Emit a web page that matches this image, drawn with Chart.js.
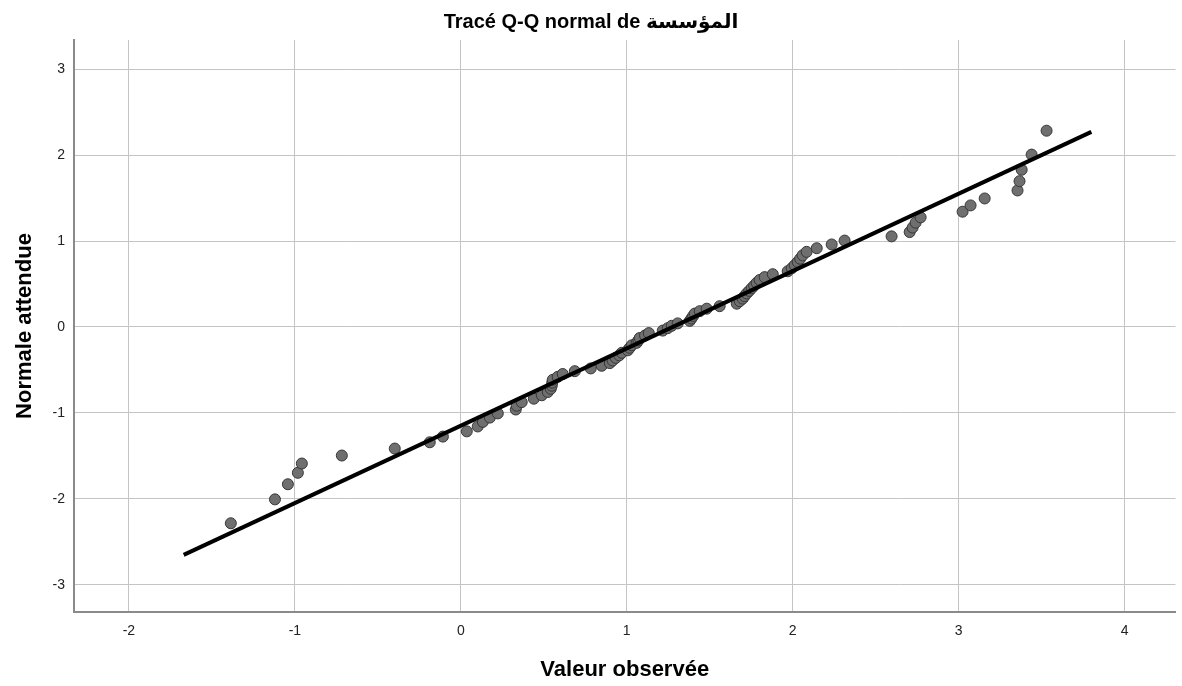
<!DOCTYPE html>
<html>
<head>
<meta charset="utf-8">
<script src="https://cdn.jsdelivr.net/npm/chart.js@4/dist/chart.umd.min.js"></script>
<style>
  html, body { margin: 0; padding: 0; background: #ffffff; }
  #wrap { width: 1182px; height: 686px; }
</style>
</head>
<body>
<div id="wrap"><canvas id="c" width="1182" height="686"></canvas></div>
<script>
const observedValues = [-1.386,-1.120,-1.042,-0.982,-0.958,-0.717,-0.398,-0.187,-0.108,0.036,
  0.102,0.133,0.175,0.223,0.331,0.337,0.367,0.440,0.488,0.524,
  0.542,0.548,0.551,0.554,0.584,0.614,0.687,0.783,0.849,0.898,
  0.915,0.934,0.955,0.970,1.006,1.018,1.030,1.060,1.070,1.078,
  1.110,1.133,1.217,1.247,1.271,1.307,1.380,1.390,1.400,1.410,
  1.440,1.482,1.560,1.663,1.681,1.699,1.710,1.723,1.738,1.753,
  1.768,1.783,1.801,1.831,1.880,1.970,1.994,2.012,2.030,2.045,
  2.060,2.084,2.145,2.235,2.313,2.596,2.705,2.723,2.741,2.771,
  3.024,3.072,3.157,3.355,3.367,3.380,3.440,3.530];
// Expected normal values (y)
const expectedNormal = [-2.283,-2.005,-1.829,-1.696,-1.588,-1.495,-1.414,-1.341,-1.275,-1.214,
  -1.157,-1.104,-1.054,-1.005,-0.960,-0.916,-0.874,-0.834,-0.794,-0.756,
  -0.719,-0.683,-0.648,-0.614,-0.580,-0.547,-0.514,-0.482,-0.451,-0.420,
  -0.390,-0.359,-0.330,-0.300,-0.271,-0.242,-0.213,-0.184,-0.156,-0.128,
  -0.099,-0.071,-0.042,-0.014,0.014,0.042,0.071,0.099,0.128,0.156,
  0.184,0.213,0.242,0.271,0.300,0.330,0.359,0.390,0.420,0.451,
  0.482,0.514,0.547,0.580,0.614,0.648,0.683,0.719,0.756,0.794,
  0.834,0.874,0.916,0.960,1.005,1.054,1.104,1.157,1.214,1.275,
  1.341,1.414,1.495,1.588,1.696,1.829,2.005,2.283];
// Reference line end points
const refLineX = [-1.67, 3.80];
const refLineY = [-2.65, 2.27];
// Tick values
const xTickValues = [-2, -1, 0, 1, 2, 3, 4];
const yTickValues = [-3, -2, -1, 0, 1, 2, 3];

const titleText = 'Tracé Q-Q normal de المؤسسة';
const xTitle = 'Valeur observée';
const yTitle = 'Normale attendue';

const FONT = "'Liberation Sans', Arial, 'DejaVu Sans', sans-serif";

const points = observedValues.map((x, i) => ({ x: x, y: expectedNormal[i] }));
const linePts = refLineX.map((x, i) => ({ x: x, y: refLineY[i] }));

new Chart(document.getElementById('c'), {
  type: 'scatter',
  data: {
    datasets: [
      {
        label: 'ref',
        data: linePts,
        showLine: true,
        borderColor: '#000000',
        borderWidth: 4,
        pointRadius: 0,
        pointHoverRadius: 0,
        order: 0
      },
      {
        label: 'obs',
        data: points,
        pointRadius: 5.5,
        pointHoverRadius: 5.5,
        pointBackgroundColor: '#6f6f6f',
        pointBorderColor: '#363636',
        pointBorderWidth: 1,
        order: 1
      }
    ]
  },
  options: {
    responsive: false,
    animation: false,
    events: [],
    layout: { padding: { top: 0, right: 0, bottom: 0, left: 0 } },
    plugins: {
      legend: { display: false },
      tooltip: { enabled: false },
      title: {
        display: true,
        text: titleText,
        color: '#000000',
        font: { family: FONT, size: 20, weight: 'bold' },
        padding: { top: 10, bottom: 6 }
      }
    },
    scales: {
      x: {
        type: 'linear',
        min: -2.331,
        max: 4.307,
        afterBuildTicks: (s) => { s.ticks = xTickValues.map(v => ({ value: v })); },
        afterFit: (s) => { s.height = 74; },
        grid: { color: '#c4c4c4', lineWidth: 1, drawTicks: false },
        border: { color: '#8a8a8a', width: 2 },
        ticks: { color: '#222222', padding: 11, font: { family: FONT, size: 14 } },
        title: {
          display: true, text: xTitle, color: '#000000',
          font: { family: FONT, size: 22, weight: 'bold' },
          padding: { top: 0, bottom: 3 }
        }
      },
      y: {
        type: 'linear',
        min: -3.315,
        max: 3.338,
        afterBuildTicks: (s) => { s.ticks = yTickValues.map(v => ({ value: v })); },
        afterFit: (s) => { s.width = 74; },
        grid: { color: '#c4c4c4', lineWidth: 1, drawTicks: false },
        border: { color: '#8a8a8a', width: 2 },
        ticks: { color: '#222222', padding: 9, font: { family: FONT, size: 14 } },
        title: {
          display: true, text: yTitle, color: '#000000',
          font: { family: FONT, size: 22, weight: 'bold' },
          padding: { top: 12, bottom: 0 }
        }
      }
    }
  }
});
</script>
</body>
</html>
